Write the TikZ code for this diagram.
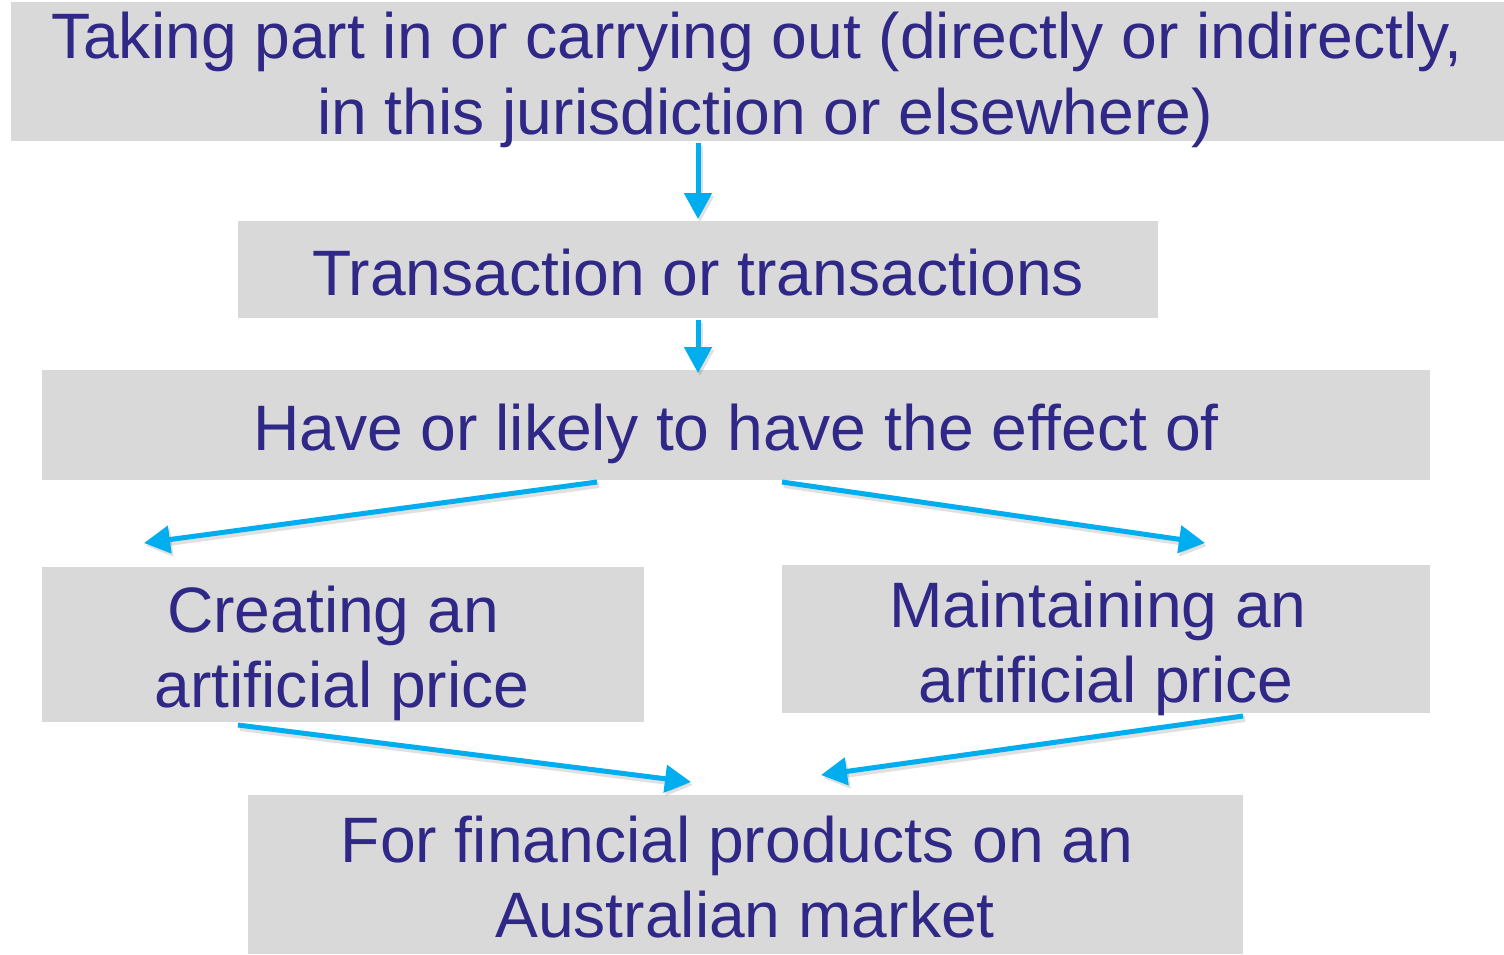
\documentclass[tikz,border=0pt]{standalone}
\usepackage{fontspec}
\setmainfont{Liberation Sans}
\usetikzlibrary{arrows.meta}
\definecolor{boxgray}{HTML}{D9D9D9}
\definecolor{ink}{HTML}{2F2887}
\definecolor{flow}{HTML}{00AEEF}
\begin{document}
\begin{tikzpicture}[x=0.5pt,y=-0.5pt,
  box/.style={fill=boxgray,draw=none,inner sep=0pt,outer sep=0pt,anchor=north west},
  txt/.style={anchor=base,inner sep=0pt,text=ink,font=\fontsize{32.1}{38}\selectfont},
  arr/.style={draw=flow,line width=2.5pt,-{Triangle[length=13pt,width=13.5pt]}},
  shade/.style={draw=black,opacity=0.12,line width=3pt,-{Triangle[length=13pt,width=13.5pt]}}]
\useasboundingbox (0,0) rectangle (1504,954);

% boxes (sizes in pt: half of the pixel grid)
\node[box,minimum width=746.5pt,minimum height=69.5pt] (b1) at (11,2) {};
\node[box,minimum width=460pt,minimum height=48.5pt] (b2) at (238,221) {};
\node[box,minimum width=694pt,minimum height=55pt] (b3) at (42,370) {};
\node[box,minimum width=301pt,minimum height=77.5pt] (b4) at (42,567) {};
\node[box,minimum width=324pt,minimum height=74pt] (b5) at (782,565) {};
\node[box,minimum width=497.5pt,minimum height=79.5pt] (b6) at (248,795) {};

% texts
\node[txt] (t1a) at (757,58) {Taking part in or carrying out (directly or indirectly,};
\node[txt] (t1b) at (765,134) {in this jurisdiction or elsewhere)};
\node[txt] (t2) at (698,295) {Transaction or transactions};
\node[txt] (t3) at (736,450) {Have or likely to have the effect of};
\node[txt] (t4a) at (333,632) {Creating an};
\node[txt] (t4b) at (342,707) {artificial price};
\node[txt] (t5a) at (1098,627) {Maintaining an};
\node[txt] (t5b) at (1106,702) {artificial price};
\node[txt] (t6a) at (737,862) {For financial products on an};
\node[txt] (t6b) at (745,937) {Australian market};

% connector end points
\coordinate (p1) at (698,143);  \coordinate (q1) at (698,219);
\coordinate (p2) at (698,320);  \coordinate (q2) at (698,373);
\coordinate (p3) at (597,482);  \coordinate (q3) at (144,543);
\coordinate (p4) at (782,482);  \coordinate (q4) at (1205,543);
\coordinate (p5) at (238,725);  \coordinate (q5) at (691,782);
\coordinate (p6) at (1243,716); \coordinate (q6) at (821,775);

% soft shadows
\foreach \a/\b in {p1/q1,p2/q2,p3/q3,p4/q4,p5/q5,p6/q6}
  \draw[shade] ([shift={(2,3)}]\a) -- ([shift={(2,3)}]\b);
% arrows
\foreach \a/\b in {p1/q1,p2/q2,p3/q3,p4/q4,p5/q5,p6/q6}
  \draw[arr] (\a) -- (\b);
\end{tikzpicture}
\end{document}
